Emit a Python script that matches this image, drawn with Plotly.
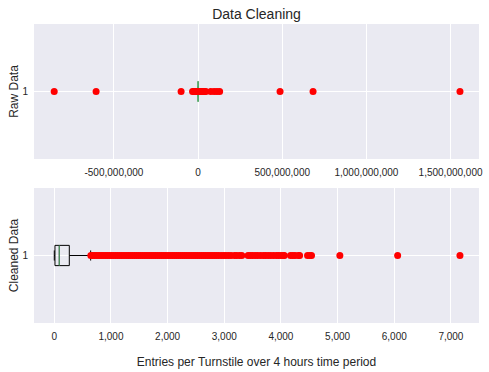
import plotly.graph_objects as go
from plotly.subplots import make_subplots

# ---- data ----
raw_stats = dict(lowerfence=0, q1=12, median=88, q3=265, upperfence=642)
raw_outliers = [-855e6, -606e6, -101e6, -33e6, -25e6, -18e6, -10e6, -4e6, 3e6, 9e6,
                15e6, 22e6, 30e6, 38e6, 46e6, 75e6, 95e6, 112e6, 128e6,
                487e6, 683e6, 1556e6]

clean_stats = dict(lowerfence=0, q1=12, median=88, q3=265, upperfence=642)
clean_outliers = [645, 680, 715, 752, 790, 826, 861, 898, 934, 972, 1008, 1045, 1083,
                  1120, 1157, 1193, 1230, 1268, 1305, 1341, 1378, 1415, 1452, 1490,
                  1526, 1563, 1600, 1637, 1675, 1712, 1748, 1785, 1822, 1860, 1897,
                  1933, 1970, 2008, 2045, 2082, 2118, 2155, 2193, 2230, 2267, 2303,
                  2340, 2378, 2415, 2452, 2488, 2526, 2563, 2600, 2637, 2674, 2712,
                  2748, 2785, 2822, 2860, 2900, 2945, 2990, 3030, 3075, 3120, 3180,
                  3220, 3270, 3310, 3420, 3460, 3500, 3545, 3590, 3640, 3690, 3730,
                  3775, 3820, 3870, 3920, 3960, 4000, 4040, 4060, 4170, 4210, 4250,
                  4310, 4330, 4470, 4510, 4540, 5040, 6060, 7160]

top_tickvals = [-500e6, 0, 500e6, 1000e6, 1500e6]
top_ticktext = ["-500,000,000", "0", "500,000,000", "1,000,000,000", "1,500,000,000"]
bot_tickvals = [0, 1000, 2000, 3000, 4000, 5000, 6000, 7000]
bot_ticktext = ["0", "1,000", "2,000", "3,000", "4,000", "5,000", "6,000", "7,000"]

BOX_W = 0.15
FONT = "Liberation Sans, Arial, sans-serif"
TXT = "#262626"
GREEN = "#55a868"
W, H = 489, 372

fig = make_subplots(rows=2, cols=1, vertical_spacing=0.097)

def add_box(stats, outliers, row, box_color):
    fig.add_trace(go.Box(
        y=[1], orientation="h",
        q1=[stats["q1"]], median=[stats["median"]], q3=[stats["q3"]],
        lowerfence=[stats["lowerfence"]], upperfence=[stats["upperfence"]],
        width=BOX_W, whiskerwidth=0.5, boxpoints=False,
        line=dict(color=box_color, width=1), fillcolor="rgba(0,0,0,0)",
        hoverinfo="skip", showlegend=False), row=row, col=1)
    fig.add_trace(go.Scatter(
        x=[stats["median"], stats["median"]], y=[1 - BOX_W / 2, 1 + BOX_W / 2],
        mode="lines", line=dict(color=GREEN, width=1),
        showlegend=False, hoverinfo="skip"), row=row, col=1)
    fig.add_trace(go.Scatter(
        x=outliers, y=[1] * len(outliers), mode="markers",
        marker=dict(color="red", size=7, line=dict(width=0)),
        showlegend=False), row=row, col=1)

add_box(raw_stats, raw_outliers, 1, GREEN)
add_box(clean_stats, clean_outliers, 2, "black")

axis_common = dict(showgrid=True, gridcolor="white", gridwidth=1, zeroline=False,
                   showline=False, ticks="", automargin=False,
                   tickfont=dict(size=10, color=TXT, family=FONT))

fig.update_xaxes(**axis_common, ticklabelstandoff=6)
fig.update_yaxes(**axis_common, ticklabelstandoff=5)

fig.update_xaxes(range=[-975e6, 1669e6], tickvals=top_tickvals, ticktext=top_ticktext, row=1, col=1)
fig.update_xaxes(range=[-358, 7496], tickvals=bot_tickvals, ticktext=bot_ticktext,
                 title=dict(text="Entries per Turnstile over 4 hours time period",
                            font=dict(size=12, color=TXT, family=FONT), standoff=16),
                 row=2, col=1)
fig.update_yaxes(range=[0.5, 1.5], tickvals=[1], ticktext=["1"],
                 title=dict(text="Raw Data", font=dict(size=12, color=TXT, family=FONT), standoff=1),
                 row=1, col=1)
fig.update_yaxes(range=[0.5, 1.5], tickvals=[1], ticktext=["1"],
                 title=dict(text="Cleaned Data", font=dict(size=12, color=TXT, family=FONT), standoff=1),
                 row=2, col=1)

fig.update_layout(
    width=W, height=H,
    margin=dict(l=34, r=10, t=24, b=49, autoexpand=False),
    paper_bgcolor="white", plot_bgcolor="#EAEAF2",
    title=dict(text="Data Cleaning", x=0.5, xanchor="center", xref="paper",
               y=1 - 14 / H, yanchor="middle", yref="container", automargin=False,
               font=dict(size=14, color=TXT, family=FONT)),
    font=dict(family=FONT, color=TXT),
)

# remove the browser's default 8px body margin so the figure fills the window
fig.write_html("out.html", config={"displayModeBar": False},
               post_script="document.body.style.margin='0';")
